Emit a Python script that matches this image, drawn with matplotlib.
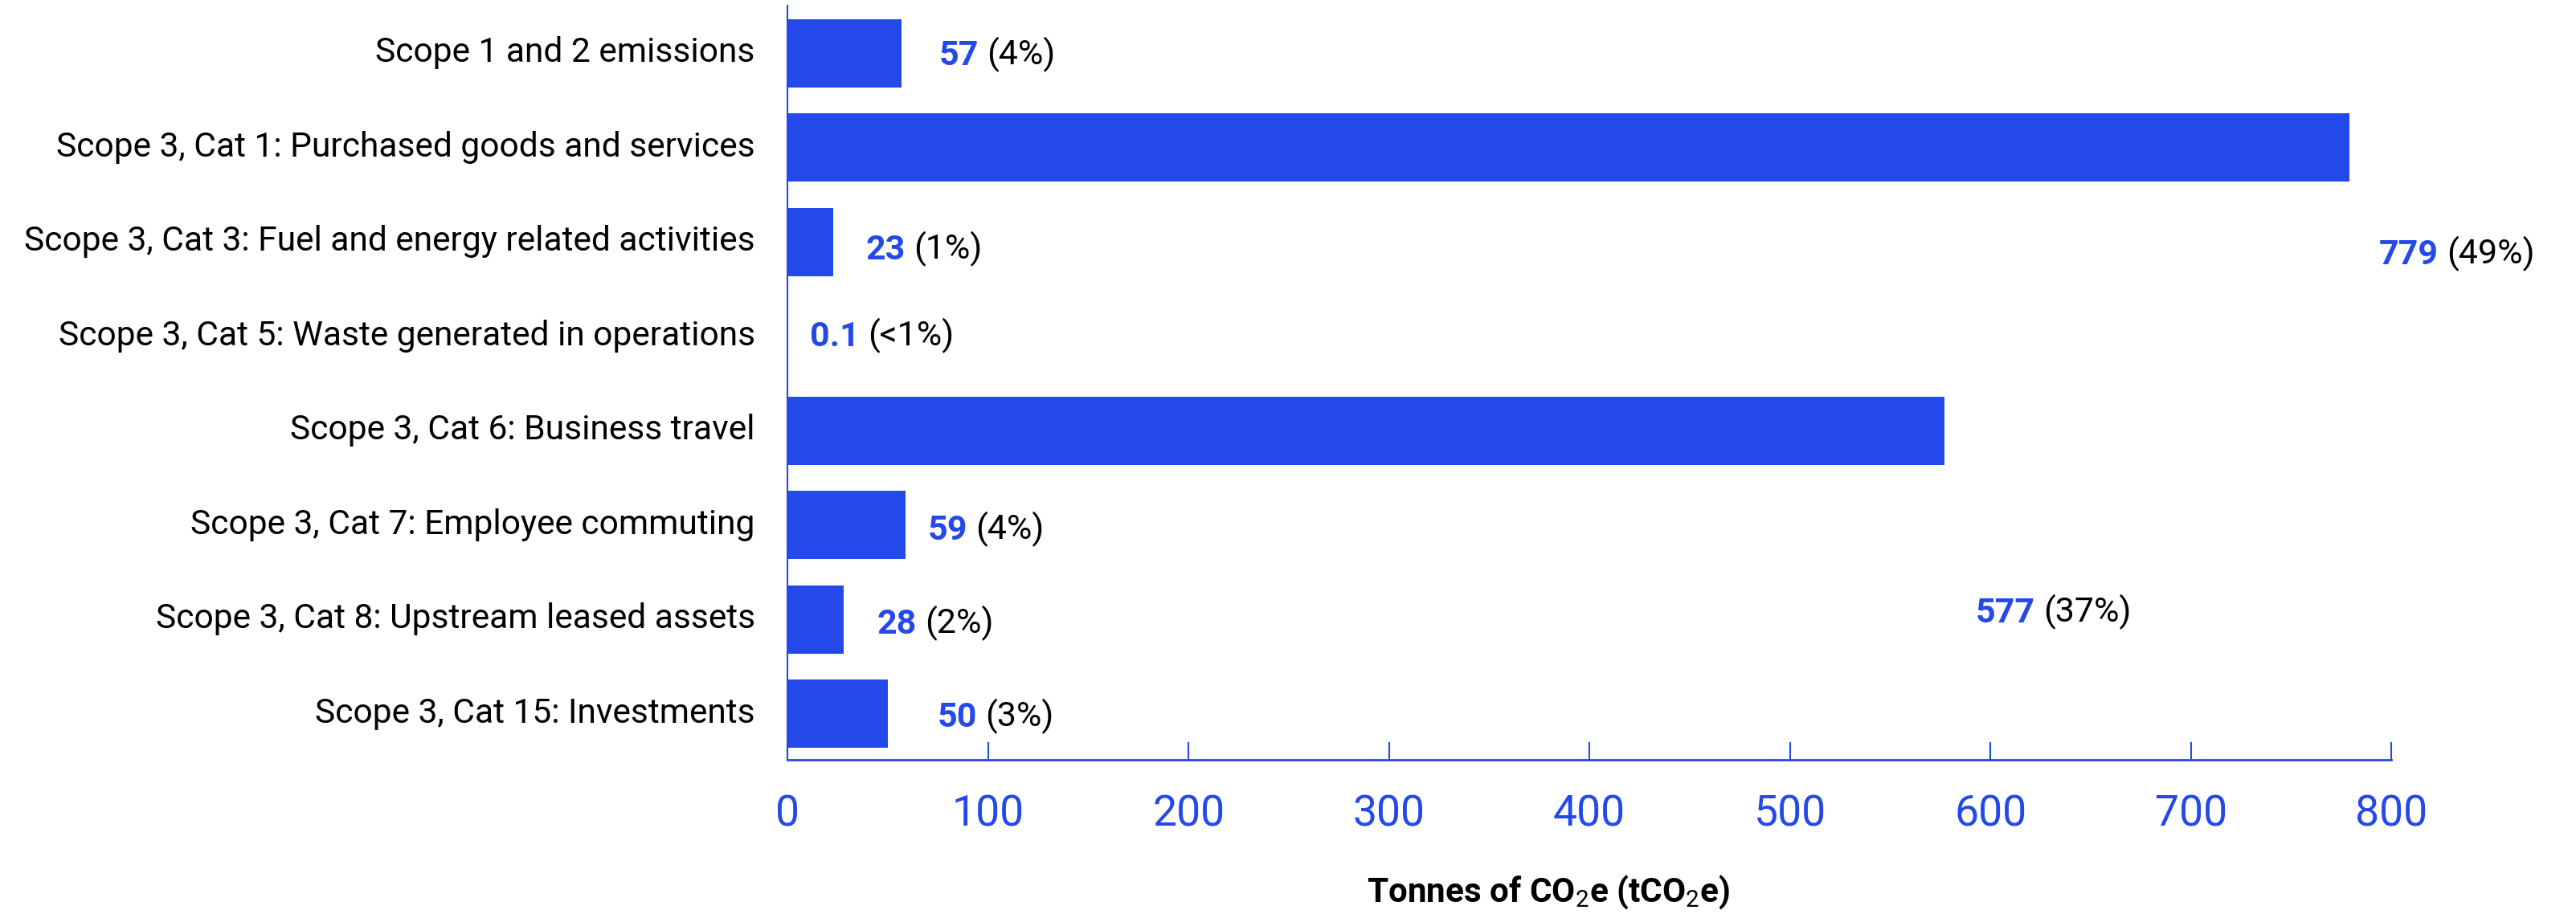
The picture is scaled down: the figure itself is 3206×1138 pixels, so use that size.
import matplotlib.pyplot as plt
import matplotlib.transforms as mtransforms
import numpy as np

plt.rcParams['font.family'] = ['Roboto', 'DejaVu Sans']
plt.rcParams['mathtext.fontset'] = 'custom'
plt.rcParams['mathtext.rm'] = 'Roboto'
plt.rcParams['mathtext.it'] = 'Roboto:italic'
plt.rcParams['mathtext.bf'] = 'Roboto:bold'

# Emissions by scope / category
categories = ['Scope 1 and 2 emissions',
              'Scope 3, Cat 1: Purchased goods and services',
              'Scope 3, Cat 3: Fuel and energy related activities',
              'Scope 3, Cat 5: Waste generated in operations',
              'Scope 3, Cat 6: Business travel',
              'Scope 3, Cat 7: Employee commuting',
              'Scope 3, Cat 8: Upstream leased assets',
              'Scope 3, Cat 15: Investments']
tonnes = [57, 779, 23, 0.1, 577, 59, 28, 50]
value_text = ['57', '779', '23', '0.1', '577', '59', '28', '50']
share_text = ['(4%)', '(49%)', '(1%)', '(<1%)', '(37%)', '(4%)', '(2%)', '(3%)']
x_ticks = [0, 100, 200, 300, 400, 500, 600, 700, 800]

BLUE = '#2449EA'

fig = plt.figure(figsize=(32.06, 11.38), dpi=100)
ax = fig.add_axes([0.3057, 0.1683, 0.6226, 0.8256])

y = np.arange(len(categories))
ax.barh(y, tonnes, height=0.724, color=BLUE)

ax.set_xlim(0, 800)
ax.set_ylim(7.49, -0.506)
ax.set_xticks(x_ticks)
ax.set_yticks(y)
ax.set_yticklabels(categories, fontsize=30.6, color='black')
ax.tick_params(axis='y', length=0, pad=29)
ax.tick_params(axis='x', direction='in', length=16, width=1.5, color=BLUE,
               labelcolor=BLUE, labelsize=38.5, pad=30)

# nudge category labels up a little so they sit centred on the bars
nudge = mtransforms.ScaledTranslation(0, 5 / 100, fig.dpi_scale_trans)
for lbl in ax.get_yticklabels():
    lbl.set_transform(lbl.get_transform() + nudge)

for side in ['top', 'right']:
    ax.spines[side].set_visible(False)
ax.spines['left'].set_color(BLUE)
ax.spines['left'].set_linewidth(1.5)
ax.spines['bottom'].set_color(BLUE)
ax.spines['bottom'].set_linewidth(2)

# label offsets from the end of each bar, in pixels (dx right, dy down to text centre)
label_dx = [46, 37, 40, 28, 39, 27, 42, 62]
label_dy = [-1, 130, 6, -3, 223, 3, 2, 1]

for i, val in enumerate(tonnes):
    num = ax.annotate(value_text[i], xy=(val, i), xytext=(label_dx[i], -label_dy[i] - 15.5),
                      textcoords='offset pixels', ha='left', va='baseline',
                      fontsize=31, fontweight='bold', color=BLUE)
    ax.annotate(share_text[i], xy=(1, 0), xycoords=num, xytext=(10, 0),
                textcoords='offset pixels', ha='left', va='bottom',
                fontsize=31, color='black')

fig.text(1701 / 3206, 15 / 1138, r'Tonnes of CO$_2$e (tCO$_2$e)', ha='left', va='baseline',
         fontsize=30.4, fontweight='bold', color='black')

plt.savefig('out.png', dpi=100)
